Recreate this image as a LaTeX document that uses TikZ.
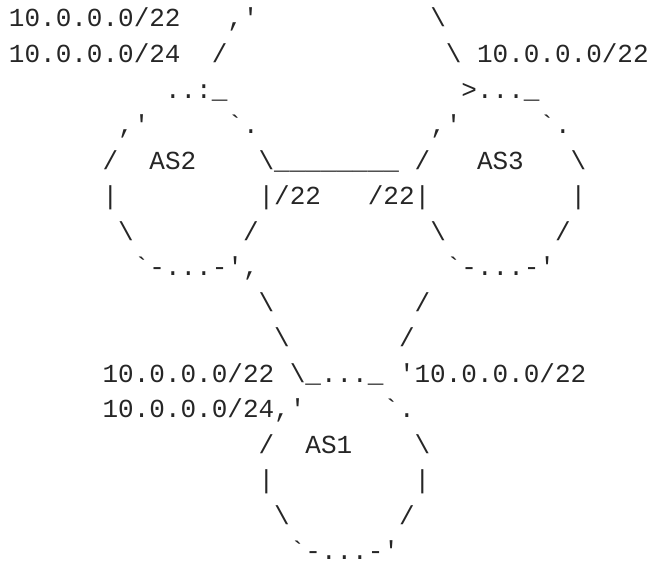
\documentclass[tikz,border=0pt]{standalone}
\usepackage{fontspec}
\setmonofont{Liberation Mono}
\usepackage{xcolor}
\usepackage{tikz}
\definecolor{asciiink}{HTML}{262626}
\newcommand{\bs}{\textbackslash}

\begin{document}
\begin{tikzpicture}[x=7.8pt, y=-17.765pt,
    row/.style={anchor=base west, inner sep=0pt, text=asciiink,
      font=\ttfamily\fontsize{13}{15}\selectfont}]
    \useasboundingbox (-0.551,0.24) rectangle (41.115,16.086);
    \node[row] (row1) at (0,1) {10.0.0.0/22~~~,'~~~~~~~~~~~\bs};
    \node[row] (row2) at (0,2) {10.0.0.0/24~~/~~~~~~~~~~~~~~\bs~10.0.0.0/22};
    \node[row] (row3) at (10,3) {..:\_~~~~~~~~~~~~~~~>...\_};
    \node[row] (row4) at (7,4) {,'~~~~~`.~~~~~~~~~~~,'~~~~~`.};
    \node[row] (row5) at (6,5) {/~~AS2~~~~\bs\_\_\_\_\_\_\_\_~/~~~AS3~~~\bs};
    \node[row] (row6) at (6,6) {|~~~~~~~~~|/22~~~/22|~~~~~~~~~|};
    \node[row] (row7) at (7,7) {\bs~~~~~~~/~~~~~~~~~~~\bs~~~~~~~/};
    \node[row] (row8) at (8,8) {`-...-',~~~~~~~~~~~~`-...-'};
    \node[row] (row9) at (16,9) {\bs~~~~~~~~~/};
    \node[row] (row10) at (17,10) {\bs~~~~~~~/};
    \node[row] (row11) at (6,11) {10.0.0.0/22~\bs\_...\_~'10.0.0.0/22};
    \node[row] (row12) at (6,12) {10.0.0.0/24,'~~~~~`.};
    \node[row] (row13) at (16,13) {/~~AS1~~~~\bs};
    \node[row] (row14) at (16,14) {|~~~~~~~~~|};
    \node[row] (row15) at (17,15) {\bs~~~~~~~/};
    \node[row] (row16) at (18,16) {`-...-'};
  \end{tikzpicture}
\end{document}
